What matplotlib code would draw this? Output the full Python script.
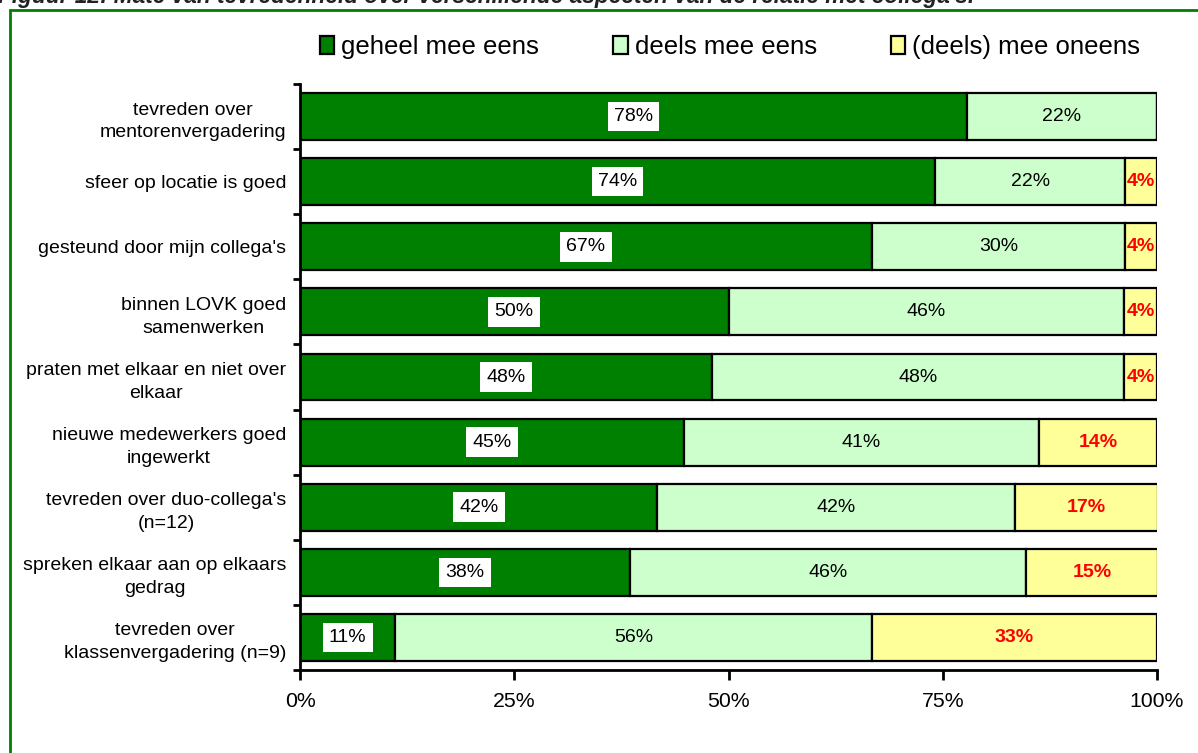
import matplotlib.pyplot as plt
from matplotlib.patches import Rectangle, Patch
import numpy as np

plt.rcParams['font.family'] = ['Liberation Sans', 'DejaVu Sans']

categories = ["tevreden over\nmentorenvergadering",
              "sfeer op locatie is goed",
              "gesteund door mijn collega's",
              "binnen LOVK goed\nsamenwerken",
              "praten met elkaar en niet over\nelkaar",
              "nieuwe medewerkers goed\ningewerkt",
              "tevreden over duo-collega's\n(n=12)",
              "spreken elkaar aan op elkaars\ngedrag",
              "tevreden over\nklassenvergadering (n=9)"]
geheel = [77.8, 74.1, 66.7, 50.0, 48.1, 44.8, 41.7, 38.5, 11.1]
deels = [22.2, 22.2, 29.6, 46.2, 48.1, 41.4, 41.7, 46.2, 55.6]
oneens = [0, 3.7, 3.7, 3.8, 3.8, 13.8, 16.7, 15.4, 33.3]
series_names = ['geheel mee eens', 'deels mee eens', '(deels) mee oneens']
colors = ['#008000', '#CCFFCC', '#FFFF99']
xticks = [0, 25, 50, 75, 100]

W, H = 1198, 753
fig = plt.figure(figsize=(W/100, H/100), dpi=100)

# green frame around chart area
fig.patches.append(Rectangle((10/W, -0.1), 1.2, (H-10)/H + 0.1, transform=fig.transFigure,
                             fill=False, edgecolor='#008000', lw=2))
# caption (cut off at the top in the original)
fig.text(-2/W, 1 - 3.5/H, "Figuur 12: Mate van tevredenheid over verschillende aspecten van de relatie met collega's.",
         fontsize=16.3, style='italic', fontweight='bold', ha='left', va='baseline', color='#222222')

ax = fig.add_axes([300/W, 1-670/H, (1157-300)/W, (670-84)/H])

y = np.arange(len(categories))
g = np.array(geheel); d = np.array(deels); o = np.array(oneens)
bh = 0.72
ax.barh(y, g, height=bh, color=colors[0], edgecolor='black', lw=1.6)
ax.barh(y, d, left=g, height=bh, color=colors[1], edgecolor='black', lw=1.6)
ax.barh(y, o, left=g+d, height=bh, color=colors[2], edgecolor='black', lw=1.6)

for i in range(len(categories)):
    ax.text(g[i]/2, y[i], '%d%%' % round(g[i]), ha='center', va='center', fontsize=14,
            bbox=dict(facecolor='white', edgecolor='none', pad=4.5))
    ax.text(g[i] + d[i]/2, y[i], '%d%%' % round(d[i]), ha='center', va='center', fontsize=14)
    if o[i] > 0:
        ax.text(g[i] + d[i] + o[i]/2, y[i], '%d%%' % round(o[i]), ha='center', va='center',
                fontsize=14, color='red', fontweight='bold')

ax.set_xlim(0, 100)
ax.set_ylim(len(categories) - 0.5, -0.5)
ax.set_xticks(xticks)
ax.set_xticklabels(['%d%%' % t for t in xticks], fontsize=15.3)
ax.set_yticks(y)
ax.set_yticklabels(categories, fontsize=14, multialignment='center', linespacing=1.45)
ax.set_yticks(np.arange(-0.5, len(categories)), minor=True)
ax.tick_params(axis='y', which='major', length=0, pad=10)
ax.tick_params(axis='y', which='minor', length=5, width=2, direction='out')
ax.tick_params(axis='x', length=7, width=2, direction='out', pad=9)
for s in ['top', 'right']:
    ax.spines[s].set_visible(False)
ax.spines['left'].set_linewidth(2)
ax.spines['bottom'].set_linewidth(2)

handles = [Patch(facecolor=c, edgecolor='black', lw=1.6) for c in colors]
fig.legend(handles, series_names, loc='center left', bbox_to_anchor=(320/W, 1-47/H),
           ncol=3, frameon=False, fontsize=18.5, handlelength=0.55, handleheight=0.66,
           handletextpad=0.27, columnspacing=2.9, borderpad=0, borderaxespad=0)

fig.savefig('out.png', dpi=100)
